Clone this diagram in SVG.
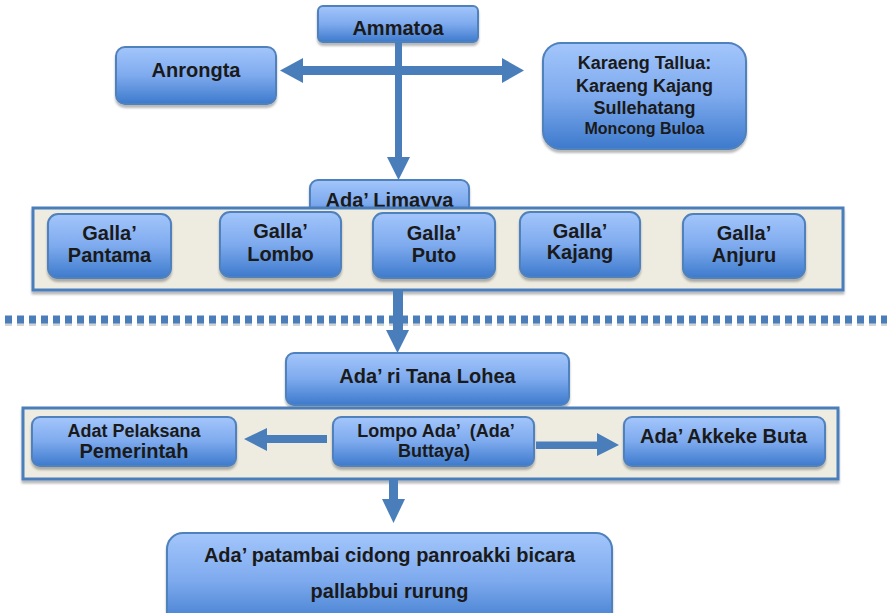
<svg xmlns="http://www.w3.org/2000/svg" width="887" height="613" viewBox="0 0 887 613">
<defs>
  <linearGradient id="bg" x1="0" y1="0" x2="0" y2="1">
    <stop offset="0" stop-color="#a3c6fb"/>
    <stop offset="0.5" stop-color="#7eaaee"/>
    <stop offset="1" stop-color="#3d7acc"/>
  </linearGradient>
  <filter id="sh" x="-10%" y="-10%" width="120%" height="130%">
    <feDropShadow dx="0" dy="3" stdDeviation="1" flood-color="#000" flood-opacity="0.28"/>
  </filter>
</defs>
<style>
  .box { fill: url(#bg); stroke: #4f81bd; stroke-width: 2; filter: url(#sh); }
  .cont { fill: #eeece1; stroke: #4a7ebb; stroke-width: 3; filter: url(#sh); }
  .t { font-family: "Liberation Sans", Arial, sans-serif; font-weight: bold; fill: #1a1a1a; text-anchor: middle; }
  .arr { fill: #4a7ebb; }
</style>
<rect width="887" height="613" fill="#ffffff"/>

<g id="divider">
  <line x1="5" y1="324" x2="887" y2="324" stroke="#d4d4d4" stroke-width="4" stroke-dasharray="7 5"/>
  <line x1="5" y1="319.5" x2="887" y2="319.5" stroke="#4a7ebb" stroke-width="8" stroke-dasharray="7 5"/>
</g>

<g id="ammatoa">
  <rect class="box" x="318" y="6" width="160" height="36" rx="5"/>
  <text class="t" x="398" y="35" font-size="20">Ammatoa</text>
</g>
<g id="anrongta">
  <rect class="box" x="116" y="47" width="160" height="57" rx="9"/>
  <text class="t" x="196" y="77" font-size="20">Anrongta</text>
</g>
<g id="karaeng-tallua">
  <rect class="box" x="543" y="43" width="203" height="106" rx="18"/>
  <text class="t" x="644.5" y="69" font-size="18">Karaeng Tallua:</text>
  <text class="t" x="644.5" y="92" font-size="18">Karaeng Kajang</text>
  <text class="t" x="644.5" y="114" font-size="18">Sullehatang</text>
  <text class="t" x="644.5" y="134" font-size="16">Moncong Buloa</text>
</g>

<g id="ada-limavva">
  <rect class="box" x="310" y="180" width="159" height="45" rx="8"/>
  <text class="t" x="389.5" y="207" font-size="20">Ada’ Limavva</text>
  <rect class="cont" x="33" y="208" width="810" height="82"/>
</g>
<g id="galla-pantama">
  <rect class="box" x="48" y="214" width="123" height="64" rx="10"/>
  <text class="t" x="109.5" y="240" font-size="20">Galla’</text>
  <text class="t" x="109.5" y="262" font-size="20">Pantama</text>
</g>
<g id="galla-lombo">
  <rect class="box" x="220" y="212" width="121" height="65" rx="10"/>
  <text class="t" x="280.5" y="238" font-size="20">Galla’</text>
  <text class="t" x="280.5" y="261" font-size="20">Lombo</text>
</g>
<g id="galla-puto">
  <rect class="box" x="373" y="213" width="122" height="65" rx="10"/>
  <text class="t" x="434" y="240" font-size="20">Galla’</text>
  <text class="t" x="434" y="262" font-size="20">Puto</text>
</g>
<g id="galla-kajang">
  <rect class="box" x="520" y="212" width="120" height="65" rx="10"/>
  <text class="t" x="580" y="238" font-size="20">Galla’</text>
  <text class="t" x="580" y="259" font-size="20">Kajang</text>
</g>
<g id="galla-anjuru">
  <rect class="box" x="683" y="214" width="122" height="64" rx="10"/>
  <text class="t" x="744" y="240" font-size="20">Galla’</text>
  <text class="t" x="744" y="262" font-size="20">Anjuru</text>
</g>

<g id="ada-ri-tana-lohea">
  <rect class="box" x="286" y="353" width="283" height="52" rx="8"/>
  <text class="t" x="427.5" y="383" font-size="20">Ada’ ri Tana Lohea</text>
</g>

<g id="ada-row-container">
  <rect class="cont" x="23" y="408" width="815" height="71"/>
</g>
<g id="adat-pelaksana">
  <rect class="box" x="32" y="417" width="204" height="49" rx="8"/>
  <text class="t" x="134" y="437" font-size="18">Adat Pelaksana</text>
  <text class="t" x="134" y="458" font-size="20">Pemerintah</text>
</g>
<g id="lompo-ada">
  <rect class="box" x="333" y="417" width="201" height="49" rx="8"/>
  <text class="t" x="436" y="437" font-size="18" style="white-space:pre">Lompo Ada’  (Ada’</text>
  <text class="t" x="434" y="457" font-size="18">Buttaya)</text>
</g>
<g id="ada-akkeke-buta">
  <rect class="box" x="624" y="417" width="201" height="49" rx="8"/>
  <text class="t" x="723.5" y="443" font-size="20">Ada’ Akkeke Buta</text>
</g>

<g id="ada-patambai">
  <rect class="box" x="167" y="533" width="445" height="95" rx="16"/>
  <text class="t" x="389.5" y="562" font-size="20">Ada’ patambai cidong panroakki bicara</text>
  <text class="t" x="389.5" y="598" font-size="20">pallabbui rurung</text>
</g>

<g id="connectors">
  <polygon class="arr" points="280,70.5 303,58 303,66 502,66 502,58 524,70.5 502,83 502,75 303,75 303,83"/>
  <rect class="arr" x="395" y="42" width="7" height="116"/>
  <polygon class="arr" points="387,157 410,157 398.5,180"/>
  <rect class="arr" x="393" y="291" width="10" height="40"/>
  <polygon class="arr" points="386,330 409,330 397.5,353"/>
  <polygon class="arr" points="244,439 267,428 267,435 327,435 327,443 267,443 267,451"/>
  <polygon class="arr" points="536,441.5 597,441.5 597,433 619,445 597,456 597,449 536,449"/>
  <rect class="arr" x="389" y="480" width="9" height="20"/>
  <polygon class="arr" points="382,499 405,499 393.5,523"/>
</g>
</svg>
